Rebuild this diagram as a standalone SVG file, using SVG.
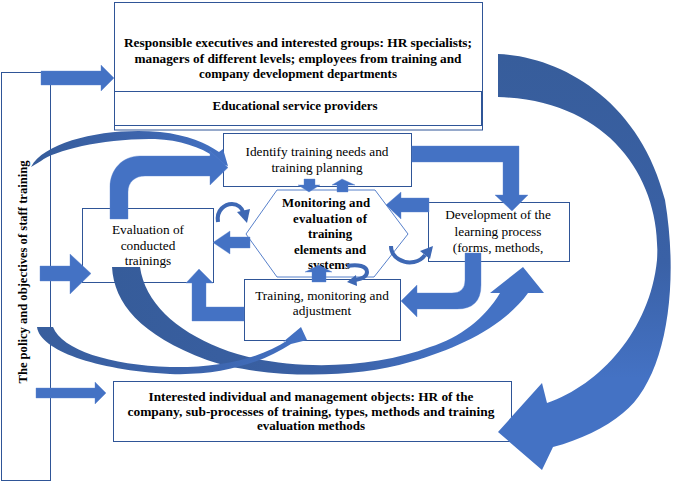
<svg xmlns="http://www.w3.org/2000/svg" width="674" height="483" viewBox="0 0 674 483">
<style>
.box{fill:#fff;stroke:#2F5597;stroke-width:1}
.hex{fill:#fff;stroke:#4472C4;stroke-width:0.9}
.arr{fill:#4472C4;stroke:#5B84CF;stroke-width:0.4}
.thin{fill:none;stroke:#3E68B4;stroke-width:4}
.hd{fill:#3E68B4}
.t{font-family:"Liberation Serif","Times New Roman",serif;font-size:13.3px;fill:#000;text-anchor:middle}
.b{font-family:"Liberation Serif","Times New Roman",serif;font-size:13px;font-weight:bold;fill:#000;text-anchor:middle}
.hb{font-family:"Liberation Serif","Times New Roman",serif;font-size:12.8px;font-weight:bold;fill:#000;text-anchor:middle}
</style>
<defs>
<linearGradient id="gK" x1="0" y1="54" x2="0" y2="470" gradientUnits="userSpaceOnUse">
<stop offset="0" stop-color="#375D9B"/><stop offset="0.5" stop-color="#3A61A6"/><stop offset="0.78" stop-color="#4472C4"/><stop offset="1" stop-color="#4472C4"/>
</linearGradient>
<linearGradient id="gL" x1="112" y1="0" x2="544" y2="0" gradientUnits="userSpaceOnUse">
<stop offset="0" stop-color="#365C9A"/><stop offset="0.5" stop-color="#3A60A4"/><stop offset="0.8" stop-color="#4472C4"/><stop offset="1" stop-color="#4472C4"/>
</linearGradient>
<linearGradient id="gM" x1="37" y1="0" x2="307" y2="0" gradientUnits="userSpaceOnUse">
<stop offset="0" stop-color="#385E9D"/><stop offset="0.6" stop-color="#3C64AC"/><stop offset="1" stop-color="#4472C4"/>
</linearGradient>
<linearGradient id="gB" x1="31" y1="0" x2="228" y2="0" gradientUnits="userSpaceOnUse">
<stop offset="0" stop-color="#365C9A"/><stop offset="0.6" stop-color="#3D65AE"/><stop offset="1" stop-color="#4472C4"/>
</linearGradient>
</defs>
<rect width="674" height="483" fill="#fff"/>

<g id="policy">
<rect class="box" x="1.5" y="72.5" width="49" height="408"/>
<text class="b" transform="translate(27,272) rotate(-90)" font-size="14" textLength="223" lengthAdjust="spacingAndGlyphs">The policy and objectives of staff training</text>
</g>

<g id="executives">
<rect class="box" x="114.5" y="2.5" width="368" height="127.5"/>
<text class="b" x="298" y="47" textLength="348" lengthAdjust="spacingAndGlyphs">Responsible  executives  and  interested  groups:  HR  specialists;</text>
<text class="b" x="298" y="63" textLength="327" lengthAdjust="spacingAndGlyphs">managers of different  levels; employees  from  training  and</text>
<text class="b" x="298" y="78" textLength="198" lengthAdjust="spacingAndGlyphs">company  development  departments</text>
</g>

<g id="providers">
<rect class="box" x="114.5" y="91.5" width="367" height="34"/>
<text class="b" x="295" y="110" textLength="165" lengthAdjust="spacingAndGlyphs">Educational  service providers</text>
</g>

<g id="identify">
<rect class="box" x="223.5" y="133.5" width="188" height="53"/>
<text class="t" x="317" y="156">Identify training needs and</text>
<text class="t" x="317" y="172">training planning</text>
</g>

<g id="monitoring">
<polygon class="hex" points="246,234 277,190 375,190 408,234 374,277 277,277"/>
<text class="hb" x="326" y="207" textLength="88">Monitoring  and</text>
<text class="hb" x="330" y="222.5" textLength="74">evaluation  of</text>
<text class="hb" x="330" y="238">training</text>
<text class="hb" x="330" y="253.5" textLength="72">elements and</text>
<text class="hb" x="329" y="269">systems</text>
</g>

<g id="evaluation">
<rect class="box" x="82.5" y="208.5" width="131" height="74"/>
<text class="t" x="148" y="234">Evaluation of</text>
<text class="t" x="148" y="250">conducted</text>
<text class="t" x="148" y="265">trainings</text>
</g>

<g id="development">
<rect class="box" x="428.5" y="202.5" width="141" height="59"/>
<text class="t" x="498" y="219">Development of the</text>
<text class="t" x="498" y="236">learning process</text>
<text class="t" x="498" y="252">(forms, methods,</text>
</g>

<g id="training">
<rect class="box" x="244.5" y="279.5" width="156" height="61"/>
<text class="t" x="322" y="300">Training, monitoring and</text>
<text class="t" x="322" y="315">adjustment</text>
</g>

<g id="objects">
<rect class="box" x="113.5" y="381.5" width="398" height="60"/>
<text class="b" x="311" y="401" textLength="325" lengthAdjust="spacingAndGlyphs">Interested  individual  and  management  objects:  HR of the</text>
<text class="b" x="311" y="416" textLength="367" lengthAdjust="spacingAndGlyphs">company,  sub-processes of training, types, methods  and  training</text>
<text class="b" x="311" y="430" textLength="108" lengthAdjust="spacingAndGlyphs">evaluation  methods</text>
</g>

<g id="connectors">
<path class="arr" d="M41,71 L101,71 L101,65 L114,78 L101,91 L101,85 L41,85 Z"/>
<path class="arr" d="M40,266 L70,266 L70,254 L91,273.5 L70,294 L70,281 L40,281 Z"/>
<path class="arr" d="M36,388 L95,388 L95,382 L106,393 L95,404 L95,398 L36,398 Z"/>

<path fill="url(#gK)" d="M498,54 C560,56 640,100 665,200 C680,290 665,380 623,413 C605,428 580,440 553,447 L542,470 L498,432 L542,383 L547,403 C600,385 650,330 657,260 C662,180 610,100 498,97 Z"/>

<path fill="url(#gL)" d="M112,267 C114,303 140,335 207,360 C260,378 350,380 410,362 C460,348 505,325 528,293 L544,293 L523,267 L490,293 L500,293 C485,318 460,338 430,347 C370,370 280,372 220,348 C175,330 145,302 140,267 Z"/>

<path fill="url(#gM)" d="M37,327 C40,350 95,370 170,374 C220,376 262,363 291,344 L307,340 L301,327 L283,342 L288,340 C258,360 215,368 170,367 C110,365 62,350 53,327 Z"/>

<path fill="url(#gB)" d="M31,167 C45,140 110,127 160,132 C188,135 206,143 219,152 L223,149 L228,166 L211,161 L215,157 C200,147 180,140 155,139 C105,138 55,150 41,161 Z"/>

<path class="arr" d="M110,219 L110,187 C110,170 122,156 140,156 L210,156 L210,151 L228,167.5 L210,185 L210,176 L145,176 C135,176 128,182 128,192 L128,219 Z"/>

<path class="arr" d="M412,146 L519,146 L519,195 L528,195 L512,211 L495,195 L503,195 L503,162 L412,162 Z"/>

<path class="arr" d="M429,198 L401,198 L401,192 L386,205 L401,219 L401,212 L429,212 Z"/>

<path class="arr" d="M250,237 L230,237 L230,231 L213,242.5 L230,254 L230,248 L250,248 Z"/>

<path class="arr" d="M244,307 L206,307 L206,283 L213,283 L199,269 L186,283 L192,283 L192,321 L244,321 Z"/>

<path class="arr" d="M465,253 L481,253 L481,285 Q481,309 457,309 L417,309 L417,317 L401,301 L417,285 L417,293 L452,293 Q465,293 465,280 Z"/>

<path class="arr" d="M304,179 L315,179 L315,185 L320,185 L309,192 L298,185 L304,185 Z"/>
<path class="arr" d="M337,192 L348,192 L348,185 L355,185 L342,179 L332,185 L337,185 Z"/>

<path class="arr" d="M312,282 L326,282 L326,272 L332,272 L319,265 L305,272 L312,272 Z"/>

<path class="thin" d="M218,222 C216,210 225,204 232,204 C238,204 242,208 243,212"/>
<polygon class="hd" points="237,212 250,209 247,223"/>
<path class="thin" d="M391,246 C391,258 404,264 414,262 C419,261 423,258 425,255"/>
<polygon class="hd" points="420,251 433,246 430,259"/>
<path class="thin" d="M347,266 C358,264 367,266 367,272 C367,277 361,279 355,280"/>
<polygon class="hd" points="356,275 357,286 347,282"/>
</g>
</svg>
